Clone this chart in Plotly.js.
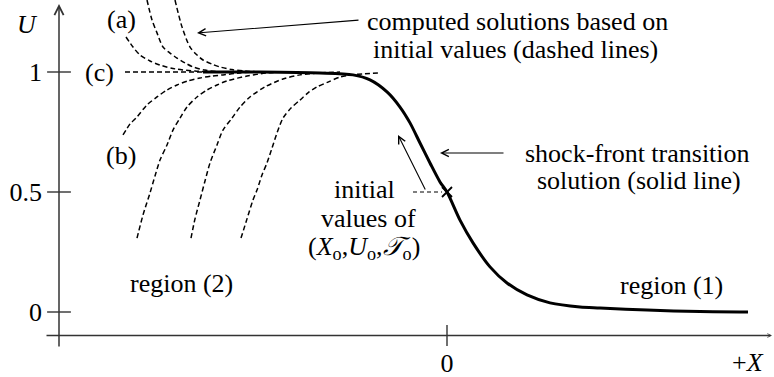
<!DOCTYPE html>
<html>
<head>
<meta charset="utf-8">
<script src="https://cdn.plot.ly/plotly-3.0.1.min.js"></script>
<style>
  html, body { margin: 0; padding: 0; background: #fff; }
  #chart { width: 774px; height: 377px; }
  /* all chart lettering in a Times-style serif */
  #chart svg text {
    font-family: 'Liberation Serif', 'Times New Roman', 'DejaVu Serif', serif !important;
  }
</style>
</head>
<body>
<div id="chart"></div>
<script>
// Shock-front transition solution U(X) (solid line)
const shockX = [-2.44, -1.87, -1.27, -0.94, -0.77, -0.60, -0.47, -0.37, -0.27, -0.17, -0.07, 0.00,
                0.13, 0.26, 0.43, 0.60, 0.80, 1.03, 1.33, 1.53, 2.00, 2.53, 3.01];
const shockU = [1.000, 1.000, 0.996, 0.988, 0.967, 0.917, 0.854, 0.788, 0.704, 0.621, 0.542, 0.500,
                0.383, 0.288, 0.188, 0.121, 0.071, 0.038, 0.021, 0.017, 0.008, 0.002, 0.000];

// Computed solutions started from perturbed initial values (dashed lines)
// (a) family: approaching U = 1 from above
const a1X = [-3.21, -3.14, -3.07, -2.97, -2.87, -2.72, -2.52, -2.32];
const a1U = [1.146, 1.104, 1.071, 1.046, 1.029, 1.013, 1.004, 1.000];
const a2X = [-3.00, -2.95, -2.90, -2.84, -2.77, -2.70, -2.62, -2.54, -2.42, -2.27, -2.07];
const a2U = [1.300, 1.217, 1.163, 1.104, 1.079, 1.058, 1.038, 1.021, 1.008, 1.000, 1.000];
const a3X = [-2.72, -2.65, -2.57, -2.50, -2.44, -2.35, -2.27, -2.15, -2.02, -1.87];
const a3U = [1.300, 1.188, 1.104, 1.071, 1.050, 1.033, 1.021, 1.010, 1.004, 1.000];
// (c): starting exactly at U = 1
const cX = [-3.22, -2.44];
const cU = [1.000, 1.000];
// (b) family: approaching U = 1 from below
const b1X = [-3.24, -3.17, -3.10, -3.00, -2.90, -2.80, -2.70, -2.59, -2.47, -2.35, -2.24, -2.07, -1.92];
const b1U = [0.738, 0.783, 0.813, 0.863, 0.896, 0.925, 0.946, 0.963, 0.975, 0.983, 0.988, 0.996, 1.000];
const b2X = [-3.10, -3.04, -2.97, -2.92, -2.87, -2.80, -2.74, -2.67, -2.60, -2.50, -2.40, -2.30, -2.20, -2.00, -1.80, -1.62];
const b2U = [0.308, 0.404, 0.496, 0.567, 0.633, 0.696, 0.758, 0.808, 0.854, 0.896, 0.925, 0.946, 0.963, 0.983, 0.996, 1.000];
const b3X = [-2.56, -2.52, -2.47, -2.42, -2.37, -2.30, -2.24, -2.15, -2.07, -1.97, -1.82, -1.64, -1.47, -1.27, -1.07];
const b3U = [0.308, 0.388, 0.467, 0.546, 0.621, 0.696, 0.758, 0.808, 0.854, 0.896, 0.938, 0.971, 0.988, 0.996, 1.000];
const b4X = [-2.06, -2.00, -1.94, -1.90, -1.85, -1.80, -1.75, -1.70, -1.64, -1.56, -1.47, -1.39, -1.30, -1.19, -1.07, -0.95, -0.84, -0.67];
const b4U = [0.308, 0.388, 0.467, 0.508, 0.571, 0.621, 0.683, 0.746, 0.808, 0.850, 0.883, 0.913, 0.938, 0.958, 0.979, 0.988, 0.992, 0.996];

// Initial values (X0, U0) on the transition
const initX = [0];
const initU = [0.5];

// Axis ticks
const yTickVals = [0, 0.5, 1];
const yTickText = ['0', '0.5', '1'];
const xTickVals = [0];
const xTickText = ['0'];

// Where the two drawn axes cross
const axisX = -3.88;   // position of the U axis
const axisU = -0.098;  // position of the X axis

const W = 774, H = 377;
const ink = '#000';
const axisInk = '#333';
const FAMILY = 'Liberation Serif';
const FS = 26;
const mkFont = () => ({ family: FAMILY, size: FS, color: ink });

const dashed = (x, y) => ({
  x: x, y: y, type: 'scatter', mode: 'lines',
  line: { color: ink, width: 1.5, dash: '5px,3px', shape: 'spline', smoothing: 0.8 },
  hoverinfo: 'skip'
});

const traces = [
  dashed(a1X, a1U), dashed(a2X, a2U), dashed(a3X, a3U),
  dashed(cX, cU),
  dashed(b1X, b1U), dashed(b2X, b2U), dashed(b3X, b3U), dashed(b4X, b4U),
  {
    x: shockX, y: shockU, type: 'scatter', mode: 'lines',
    line: { color: ink, width: 3, shape: 'spline', smoothing: 0.8 },
    hoverinfo: 'skip'
  },
  {
    x: initX, y: initU, type: 'scatter', mode: 'markers',
    marker: { symbol: 'x-thin', size: 10, line: { color: ink, width: 1.8 } },
    hoverinfo: 'skip'
  },
  // tick marks crossing the U axis
  {
    x: yTickVals.map(() => axisX), y: yTickVals, type: 'scatter', mode: 'markers',
    marker: { symbol: 'line-ew', size: 17, line: { color: axisInk, width: 1.4 } },
    cliponaxis: false, hoverinfo: 'skip'
  },
  // tick marks crossing the X axis
  {
    x: xTickVals, y: xTickVals.map(() => axisU), type: 'scatter', mode: 'markers',
    marker: { symbol: 'line-ns', size: 15, line: { color: axisInk, width: 1.4 } },
    cliponaxis: false, hoverinfo: 'skip'
  }
];

// text placed by pixel centre
const label = (text, cx, cy) => ({
  text: text, xref: 'paper', yref: 'paper', x: cx / W, y: 1 - cy / H,
  xanchor: 'center', yanchor: 'middle', showarrow: false, font: mkFont()
});

// arrow ending at a data point, tail offset in pixels
const arrow = (x, y, ax, ay, opts) => Object.assign({
  text: '', x: x, y: y, xref: 'x', yref: 'y', ax: ax, ay: ay,
  showarrow: true, arrowhead: 5, arrowsize: 1.3, arrowwidth: 1.1, arrowcolor: ink,
  standoff: 0, startstandoff: 0
}, opts || {});

const annotations = [
  // axes with arrowheads
  arrow(axisX, 1.2833, 0, 344, { arrowcolor: axisInk, arrowwidth: 1.5, arrowsize: 1.2 }),
  arrow(3.25, axisU, -727, 0, { arrowcolor: axisInk, arrowwidth: 1.5, arrowsize: 0.5 }),
  // pointers
  arrow(-2.50, 1.1625, 163, -13),
  arrow(-0.07, 0.6625, 65, 0),
  arrow(-0.49, 0.7375, 28, 56),

  label('<i>U</i>', 27, 25),
  label('(a)', 121, 19),
  label('(c)', 100, 72),
  label('(b)', 121, 156),
  label('computed solutions based on', 517, 21),
  label('initial values (dashed lines)', 515, 49),
  label('shock-front transition', 637, 153),
  label('solution (solid line)', 639, 181),
  label('initial', 364, 189),
  label('values of', 368, 218),
  label('(<i>X</i><sub>o</sub>,<i>U</i><sub>o</sub>,<i>𝒯</i><sub>o</sub>)', 364, 248),
  label('region (2)', 181, 283),
  label('region (1)', 671, 285),
  label('+<i>X</i>', 748, 362)
];

const shapes = [
  // leader from the "initial values" label to the marked point
  { type: 'line', xref: 'x', yref: 'y', x0: -0.34, x1: -0.05, y0: 0.5, y1: 0.5,
    line: { color: ink, width: 1.2, dash: '4px,3px' } }
];

const layout = {
  width: W, height: H,
  margin: { l: 0, r: 0, t: 0, b: 0 },
  paper_bgcolor: '#fff', plot_bgcolor: '#fff',
  showlegend: false,
  font: mkFont(),
  xaxis: {
    range: [-4.47, 3.27], showgrid: false, zeroline: false, showline: false,
    anchor: 'free', position: (H - 335.5) / H,
    tickmode: 'array', tickvals: xTickVals, ticktext: xTickText, ticks: '',
    ticklabelstandoff: 9, tickfont: mkFont(), fixedrange: true
  },
  yaxis: {
    range: [-0.270833, 1.3], showgrid: false, zeroline: false, showline: false,
    anchor: 'free', position: 59 / W,
    tickmode: 'array', tickvals: yTickVals, ticktext: yTickText, ticks: '',
    ticklabelstandoff: 17, tickfont: mkFont(), fixedrange: true
  },
  annotations: annotations,
  shapes: shapes
};

Plotly.newPlot('chart', traces, layout, { staticPlot: true, displayModeBar: false });
</script>
</body>
</html>
